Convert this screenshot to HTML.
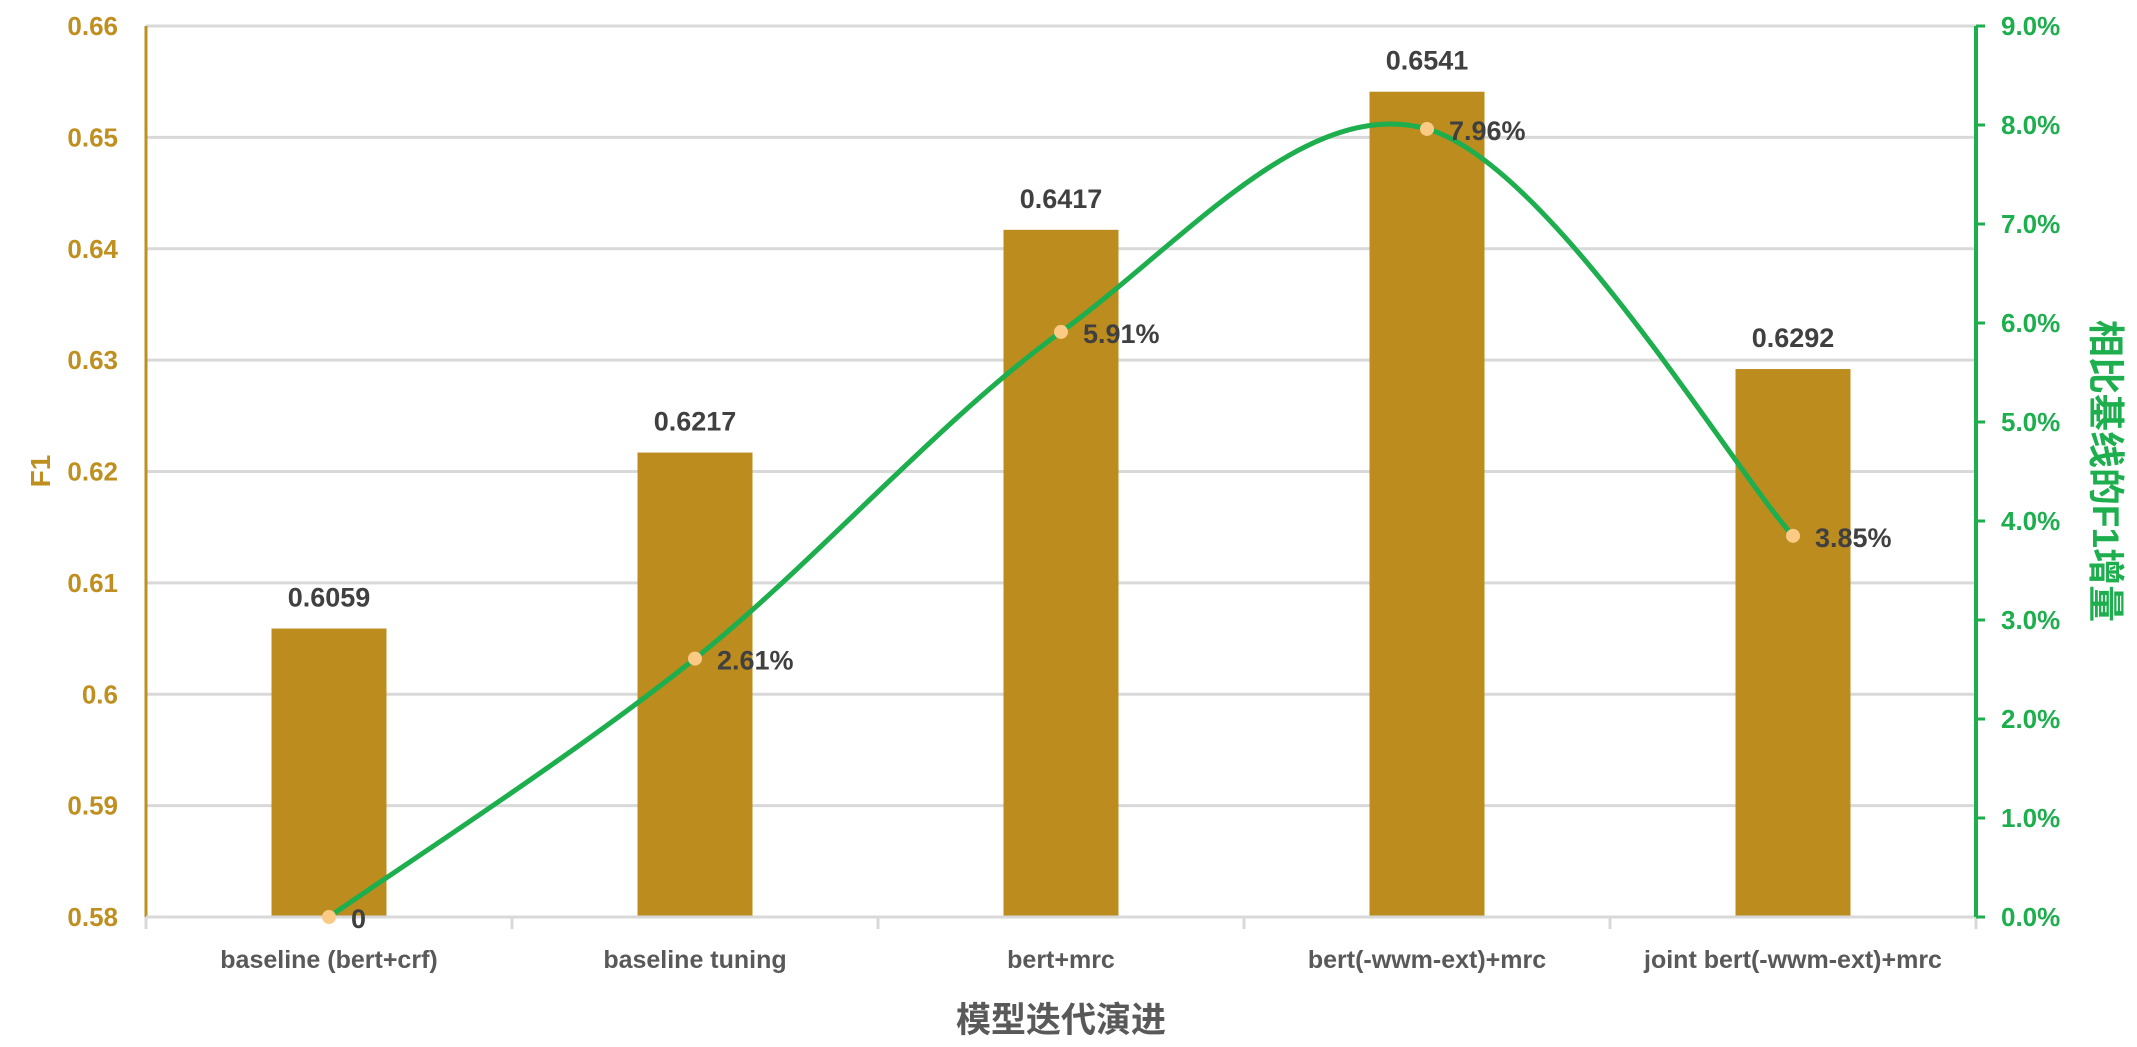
<!DOCTYPE html>
<html><head><meta charset="utf-8"><style>
html,body{margin:0;padding:0;background:#fff;}
svg text{font-family:"Liberation Sans","Noto Sans CJK SC",sans-serif;font-weight:bold;}
</style></head><body>
<svg id="chart" width="2137" height="1042" viewBox="0 0 2137 1042" xmlns="http://www.w3.org/2000/svg"></svg>
<script>
const categories=["baseline (bert+crf)","baseline tuning","bert+mrc","bert(-wwm-ext)+mrc","joint bert(-wwm-ext)+mrc"];
const f1Values=[0.6059,0.6217,0.6417,0.6541,0.6292];
const gainValues=[0,0.0261,0.0591,0.0796,0.0385];
const gainLabels=["0","2.61%","5.91%","7.96%","3.85%"];
const leftTicks=[0.58,0.59,0.6,0.61,0.62,0.63,0.64,0.65,0.66];
const leftTickLabels=["0.58","0.59","0.6","0.61","0.62","0.63","0.64","0.65","0.66"];
const rightTicks=[0,0.01,0.02,0.03,0.04,0.05,0.06,0.07,0.08,0.09];
const rightTickLabels=["0.0%","1.0%","2.0%","3.0%","4.0%","5.0%","6.0%","7.0%","8.0%","9.0%"];

const svg=document.getElementById('chart');
const NS="http://www.w3.org/2000/svg";
const L=146,R=1976,T=26,B=917;
const yL=v=>B-(v-0.58)/(0.08)*(B-T);
const yR=v=>B-v/0.09*(B-T);
const band=(R-L)/categories.length;
const xC=i=>L+band*(i+0.5);
function mk(tag,attrs,parent){const e=document.createElementNS(NS,tag);for(const k in attrs)e.setAttribute(k,attrs[k]);(parent||svg).appendChild(e);return e;}

leftTicks.forEach((t,i)=>{
  const g=mk('line',{x1:L,x2:R,y1:yL(t),y2:yL(t),stroke:'#d9d9d9','stroke-width':3});
  
  
  const tx=mk('text',{x:118,y:yL(t)+9,'text-anchor':'end','font-size':26,fill:'#BF8F20'});
  tx.textContent=leftTickLabels[i];
  
  
});
for(let i=0;i<=categories.length;i++){
  const tk=mk('line',{x1:L+band*i,x2:L+band*i,y1:B,y2:B+12,stroke:'#d9d9d9','stroke-width':3});
  
  
}
categories.forEach((c,i)=>{
  const bw=115;
  const b=mk('rect',{x:xC(i)-bw/2,y:yL(f1Values[i]),width:bw,height:B-yL(f1Values[i]),fill:'#BC8C1F'});
  
  
  const bl=mk('text',{x:xC(i),y:yL(f1Values[i])-22,'text-anchor':'middle','font-size':27,fill:'#404040'});
  bl.textContent=f1Values[i].toFixed(4);
  
  
  const cl=mk('text',{x:xC(i),y:968,'text-anchor':'middle','font-size':25,fill:'#595959'});
  cl.textContent=c;
  
  
});
const ax=mk('line',{x1:L,x2:L,y1:T,y2:B,stroke:'#BF8F20','stroke-width':3});


const bx=mk('line',{x1:L,x2:R,y1:B,y2:B,stroke:'#d9d9d9','stroke-width':3});


const rx=mk('line',{x1:R,x2:R,y1:T,y2:B,stroke:'#1DAE4E','stroke-width':4});


rightTicks.forEach((t,i)=>{
  const tk=mk('line',{x1:R,x2:R+9,y1:yR(t),y2:yR(t),stroke:'#1DAE4E','stroke-width':3});
  
  
  const tx=mk('text',{x:2001,y:yR(t)+9,'font-size':26,fill:'#1DAE4E'});
  tx.textContent=rightTickLabels[i];
  
  
});
const pts=gainValues.map((v,i)=>[xC(i),yR(v)]);
let d='M'+pts[0][0]+','+pts[0][1];
for(let i=0;i<pts.length-1;i++){
  const p0=pts[Math.max(0,i-1)],p1=pts[i],p2=pts[i+1],p3=pts[Math.min(pts.length-1,i+2)];
  const k=1/6;
  d+=' C'+(p1[0]+(p2[0]-p0[0])*k)+','+(p1[1]+(p2[1]-p0[1])*k)+' '+(p2[0]-(p3[0]-p1[0])*k)+','+(p2[1]-(p3[1]-p1[1])*k)+' '+p2[0]+','+p2[1];
}
const line=mk('path',{d:d,fill:'none',stroke:'#1DAE4E','stroke-width':5});


pts.forEach((p,i)=>{
  const c=mk('circle',{cx:p[0],cy:p[1],r:7,fill:'#FBCB86'});
  
  
  const t=mk('text',{x:p[0]+22,y:p[1]+11,'font-size':27,fill:'#404040'});
  t.textContent=gainLabels[i];
  
  
});
const xt=mk('text',{x:1061,y:1032,'text-anchor':'middle','font-size':35,fill:'#595959'});
xt.textContent='模型迭代演进';


const yt=mk('text',{x:0,y:0,'text-anchor':'middle','font-size':28,fill:'#BF8F20',transform:'translate(50,471) rotate(-90)'});
yt.textContent='F1';


const ryt=mk('text',{x:0,y:0,'text-anchor':'middle','font-size':37,fill:'#1DAE4E',transform:'translate(2093,471) rotate(90)'});
ryt.textContent='相比基线的F1增量';


</script>
</body></html>
